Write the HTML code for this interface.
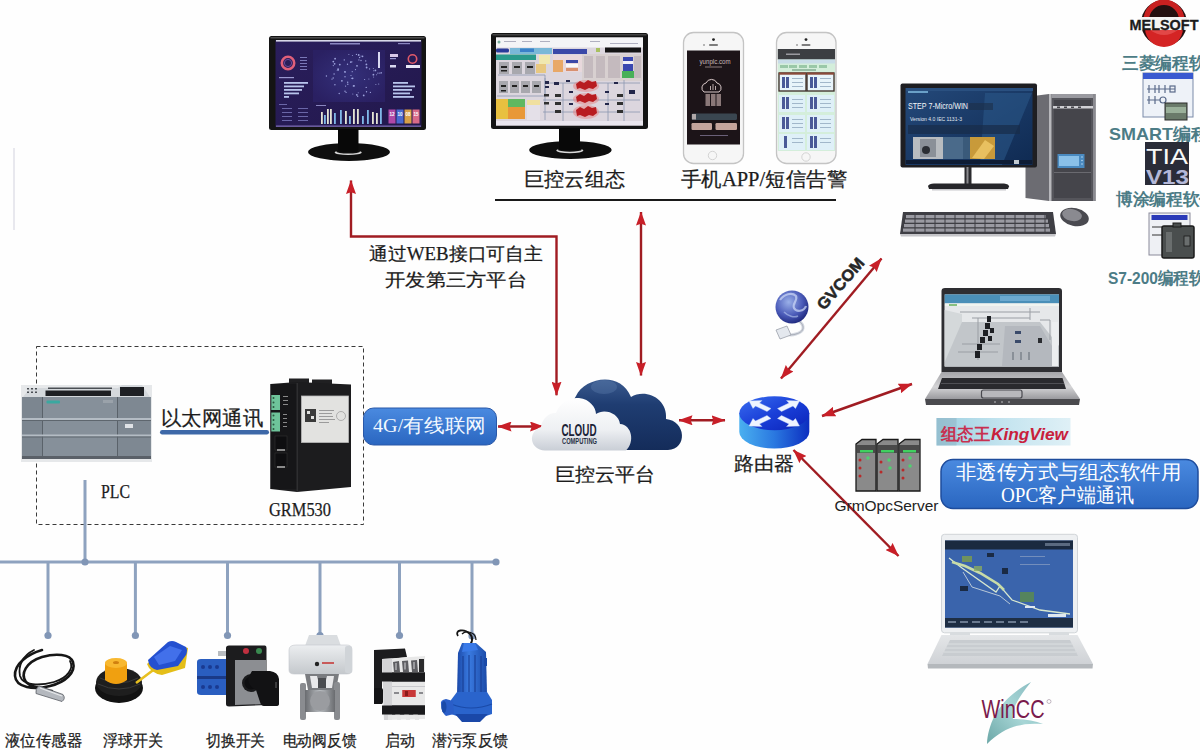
<!DOCTYPE html>
<html><head><meta charset="utf-8">
<style>
html,body{margin:0;padding:0;background:#fff;width:1200px;height:750px;overflow:hidden}
svg{display:block}
.t{font-family:"Liberation Serif",serif;fill:#1c1c1c;stroke:#1c1c1c;stroke-width:0.25}
.s{font-family:"Liberation Sans",sans-serif}
</style></head><body>
<svg width="1200" height="750" viewBox="0 0 1200 750">
<defs>
<marker id="ah" viewBox="0 0 14 10" refX="13.5" refY="5" markerWidth="14" markerHeight="10" markerUnits="userSpaceOnUse" orient="auto-start-reverse">
<path d="M0,0 L14,5 L0,10 L1.8,5 z" fill="#c81f28"/>
</marker>
<linearGradient id="dashbg" x1="0" y1="0" x2="1" y2="1"><stop offset="0" stop-color="#2a1e5c"/><stop offset="1" stop-color="#22184c"/></linearGradient>
<radialGradient id="mapg" cx="0.5" cy="0.5" r="0.6"><stop offset="0" stop-color="#34307a"/><stop offset="1" stop-color="#2a2062"/></radialGradient>
<linearGradient id="baseg" x1="0" y1="0" x2="0" y2="1"><stop offset="0" stop-color="#2a2a2a"/><stop offset="1" stop-color="#0c0c0c"/></linearGradient>
<linearGradient id="cloudD" x1="0" y1="0" x2="0" y2="1"><stop offset="0" stop-color="#3a5a8e"/><stop offset="0.35" stop-color="#1f3d72"/><stop offset="1" stop-color="#142c5a"/></linearGradient>
<linearGradient id="cloudW" x1="0" y1="0" x2="0" y2="1"><stop offset="0" stop-color="#ffffff"/><stop offset="0.6" stop-color="#eef0f3"/><stop offset="1" stop-color="#c9ced6"/></linearGradient>
<linearGradient id="rtop" x1="0" y1="0" x2="1" y2="1"><stop offset="0" stop-color="#3a6ef0"/><stop offset="0.5" stop-color="#1a3fd8"/><stop offset="1" stop-color="#0a22b8"/></linearGradient>
<linearGradient id="rside" x1="0" y1="0" x2="1" y2="0"><stop offset="0" stop-color="#4ab0f0"/><stop offset="0.5" stop-color="#2a78e0"/><stop offset="1" stop-color="#0c2ec0"/></linearGradient>
<linearGradient id="bluebox" x1="0" y1="0" x2="0" y2="1"><stop offset="0" stop-color="#4a8ae0"/><stop offset="1" stop-color="#2a66c0"/></linearGradient>
<linearGradient id="kv" x1="0" y1="0" x2="1" y2="0"><stop offset="0" stop-color="#9ccfe0"/><stop offset="0.5" stop-color="#c4e4ef"/><stop offset="1" stop-color="#dff0f6"/></linearGradient>
<linearGradient id="step7" x1="0" y1="0" x2="1" y2="1"><stop offset="0" stop-color="#24497a"/><stop offset="1" stop-color="#0f2a52"/></linearGradient>
<linearGradient id="tower" x1="0" y1="0" x2="1" y2="0"><stop offset="0" stop-color="#3a3a3e"/><stop offset="0.3" stop-color="#55555a"/><stop offset="1" stop-color="#3e3e44"/></linearGradient>
<linearGradient id="lapbase" x1="0" y1="0" x2="0" y2="1"><stop offset="0" stop-color="#a4a4a8"/><stop offset="0.55" stop-color="#d4d4d6"/><stop offset="1" stop-color="#9a9a9e"/></linearGradient>
<linearGradient id="lap2base" x1="0" y1="0" x2="0" y2="1"><stop offset="0" stop-color="#e4e6e8"/><stop offset="1" stop-color="#cfd2d6"/></linearGradient>
<linearGradient id="pumpg" x1="0" y1="0" x2="1" y2="0"><stop offset="0" stop-color="#1a48a8"/><stop offset="0.4" stop-color="#3a7ae0"/><stop offset="1" stop-color="#1a4aa8"/></linearGradient>
<linearGradient id="valveg" x1="0" y1="0" x2="0" y2="1"><stop offset="0" stop-color="#eceef0"/><stop offset="1" stop-color="#c4c8cc"/></linearGradient>
<linearGradient id="metal" x1="0" y1="0" x2="1" y2="0"><stop offset="0" stop-color="#6a6c70"/><stop offset="0.5" stop-color="#b8bcc0"/><stop offset="1" stop-color="#6a6c70"/></linearGradient>
<radialGradient id="globe" cx="0.4" cy="0.35" r="0.7"><stop offset="0" stop-color="#9ab0e8"/><stop offset="0.6" stop-color="#4a5ab8"/><stop offset="1" stop-color="#1a2478"/></radialGradient>
<linearGradient id="wincc" x1="0" y1="1" x2="1" y2="0"><stop offset="0" stop-color="#3a8a8a"/><stop offset="0.5" stop-color="#8ac8c8"/><stop offset="1" stop-color="#5aa0a8"/></linearGradient>
</defs>
<rect width="1200" height="750" fill="#fefefe"/>
<rect x="13" y="148" width="2" height="82" fill="#e8e8ee"/>
<!--MON1-->
<g id="mon1">
<rect x="269" y="36" width="157" height="94" rx="2.5" fill="#141414"/>
<rect x="270.5" y="37.2" width="154" height="1.2" fill="#5a5a5a"/>
<rect x="275.5" y="40" width="146" height="87" fill="url(#dashbg)"/>
<rect x="276" y="40" width="145" height="1.6" fill="#d8d8e8"/>
<rect x="276" y="125.5" width="145" height="1.3" fill="#7a6ab0"/>
<rect x="330" y="43" width="30" height="1.5" fill="#8a86c0"/>
<rect x="398" y="43" width="12" height="1.2" fill="#8a86c0"/>
<!-- left panel -->
<circle cx="288" cy="63" r="6.2" fill="none" stroke="#e0607a" stroke-width="2.6"/>
<circle cx="288" cy="63" r="3.6" fill="none" stroke="#6a4a9a" stroke-width="1"/>
<g fill="#7a78b8"><rect x="300" y="57" width="7" height="1"/><rect x="300" y="60" width="7" height="1"/><rect x="300" y="63" width="7" height="1"/><rect x="300" y="66" width="7" height="1"/><rect x="300" y="69" width="7" height="1"/></g>
<rect x="279" y="77" width="15" height="1.2" fill="#9a98d0"/>
<g fill="#b8c4ec"><rect x="284" y="82" width="24" height="1.8"/><rect x="284" y="85.5" width="20" height="1.8"/><rect x="284" y="89" width="18" height="1.8"/><rect x="284" y="92.5" width="15" height="1.8"/><rect x="284" y="96" width="5" height="1.8"/></g>
<g fill="#6a66a8"><rect x="279" y="104" width="8" height="1"/><rect x="282" y="108" width="10" height="1"/><rect x="298" y="108" width="10" height="1"/><rect x="282" y="112" width="10" height="1"/><rect x="298" y="112" width="10" height="1"/><rect x="282" y="116" width="10" height="1"/><rect x="298" y="116" width="10" height="1"/><rect x="282" y="120" width="10" height="1"/><rect x="298" y="120" width="10" height="1"/></g>
<!-- map -->
<rect x="313" y="50" width="72" height="52" fill="url(#mapg)"/>
<g fill="#b8c0f8" opacity="0.8">
<circle cx="333.2" cy="78.0" r="0.7"/><circle cx="376.6" cy="74.8" r="0.5"/><circle cx="356.8" cy="94.8" r="0.9"/><circle cx="334.6" cy="63.8" r="0.9"/><circle cx="352.6" cy="78.3" r="0.9"/><circle cx="358.9" cy="59.9" r="0.6"/><circle cx="373.6" cy="77.1" r="0.5"/><circle cx="361.0" cy="55.9" r="0.5"/><circle cx="373.4" cy="74.7" r="0.9"/><circle cx="363.7" cy="95.4" r="0.9"/><circle cx="364.6" cy="79.5" r="0.6"/><circle cx="379.8" cy="73.1" r="0.7"/><circle cx="345.0" cy="91.3" r="0.7"/><circle cx="352.2" cy="71.7" r="0.6"/><circle cx="375.9" cy="84.4" r="0.5"/><circle cx="361.0" cy="60.5" r="0.7"/><circle cx="354.4" cy="85.8" r="0.6"/><circle cx="335.1" cy="58.7" r="0.9"/><circle cx="344.3" cy="59.9" r="0.7"/><circle cx="345.3" cy="72.1" r="0.5"/><circle cx="339.2" cy="93.5" r="0.7"/><circle cx="356.4" cy="54.4" r="0.6"/><circle cx="334.9" cy="84.7" r="0.7"/><circle cx="375.4" cy="70.4" r="0.9"/><circle cx="373.7" cy="70.8" r="0.5"/><circle cx="357.7" cy="96.3" r="0.7"/><circle cx="345.6" cy="86.1" r="0.6"/><circle cx="377.9" cy="73.1" r="0.7"/><circle cx="351.4" cy="78.2" r="0.5"/><circle cx="338.2" cy="70.3" r="0.6"/><circle cx="347.8" cy="84.2" r="0.7"/><circle cx="357.0" cy="65.8" r="0.9"/><circle cx="334.1" cy="74.0" r="0.7"/><circle cx="366.5" cy="91.8" r="0.7"/><circle cx="337.2" cy="70.3" r="0.5"/><circle cx="326.4" cy="76.0" r="0.7"/><circle cx="333.3" cy="61.6" r="0.9"/><circle cx="359.6" cy="57.5" r="0.7"/><circle cx="378.7" cy="84.0" r="0.6"/><circle cx="346.1" cy="92.4" r="0.6"/><circle cx="332.0" cy="79.1" r="0.7"/><circle cx="351.9" cy="61.8" r="0.6"/><circle cx="373.3" cy="68.6" r="0.5"/><circle cx="369.6" cy="68.9" r="0.6"/><circle cx="345.0" cy="76.8" r="0.7"/><circle cx="347.7" cy="82.2" r="0.7"/><circle cx="344.9" cy="71.8" r="0.9"/><circle cx="381.2" cy="73.0" r="0.6"/><circle cx="366.2" cy="87.4" r="0.7"/><circle cx="352.8" cy="93.9" r="0.5"/><circle cx="350.8" cy="62.1" r="0.9"/><circle cx="365.7" cy="60.9" r="0.7"/><circle cx="352.4" cy="55.4" r="0.5"/><circle cx="339.8" cy="64.6" r="0.9"/><circle cx="333.3" cy="65.6" r="0.6"/><circle cx="358.2" cy="92.7" r="0.5"/><circle cx="366.4" cy="64.4" r="0.9"/><circle cx="370.4" cy="92.4" r="0.6"/><circle cx="348.9" cy="54.5" r="0.5"/><circle cx="351.0" cy="75.5" r="0.6"/><circle cx="338.1" cy="69.2" r="0.9"/><circle cx="355.5" cy="69.6" r="0.6"/><circle cx="381.2" cy="72.7" r="0.6"/><circle cx="353.6" cy="85.9" r="0.9"/><circle cx="368.9" cy="79.1" r="0.5"/><circle cx="341.9" cy="80.8" r="0.9"/><circle cx="358.7" cy="55.0" r="0.9"/><circle cx="366.6" cy="67.5" r="0.9"/><circle cx="347.5" cy="64.3" r="0.7"/><circle cx="362.5" cy="56.3" r="0.9"/>
</g>
<rect x="378" y="52" width="2" height="16" fill="#d8d8f0"/>
<!-- bar chart -->
<rect x="316" y="105" width="10" height="1" fill="#8a86c0"/>
<g fill="#e4e4d4"><rect x="321" y="112" width="1.8" height="12"/><rect x="327" y="109" width="1.8" height="15"/><rect x="330" y="109" width="1.8" height="15"/><rect x="345" y="111" width="1.8" height="13"/><rect x="353" y="109" width="1.8" height="15"/><rect x="357" y="109" width="1.8" height="15"/><rect x="372" y="112" width="1.8" height="12"/><rect x="376" y="113" width="1.8" height="11"/></g>
<g fill="#80b8e8"><rect x="324" y="115" width="1.8" height="9"/><rect x="334" y="113" width="1.8" height="11"/><rect x="340" y="110" width="1.8" height="14"/><rect x="349" y="116" width="1.8" height="8"/><rect x="362" y="116" width="1.8" height="8"/><rect x="367" y="110" width="1.8" height="14"/><rect x="380" y="108" width="1.8" height="16"/></g>
<!-- right panel -->
<circle cx="412.5" cy="59" r="4.2" fill="none" stroke="#e05a6a" stroke-width="1.6"/>
<rect x="390" y="54" width="8" height="3" fill="#d8c8e8"/><rect x="390" y="58" width="6" height="1.2" fill="#9a98d0"/>
<rect x="390" y="65" width="6" height="2.5" fill="#d8d8f0"/>
<rect x="406" y="65" width="14" height="3" fill="#e8e8f8"/>
<g fill="#b8c4ec"><rect x="393" y="82" width="15" height="1.8"/><rect x="393" y="85.5" width="22" height="1.8"/><rect x="393" y="89" width="19" height="1.8"/><rect x="393" y="92.5" width="17" height="1.8"/><rect x="393" y="96" width="21" height="1.8"/></g>
<rect x="388.5" y="109.5" width="7" height="14" fill="#b048a8"/>
<rect x="396.5" y="109.5" width="7" height="14" fill="#4a68d0"/>
<rect x="404.5" y="109.5" width="7" height="14" fill="#d8a048"/>
<rect x="412.5" y="109.5" width="7" height="14" fill="#d86a88"/>
<g fill="#fff" font-family="Liberation Sans" font-size="4.5" font-weight="bold"><text x="389.5" y="116">12</text><text x="397.5" y="116">10</text><text x="405.5" y="116">08</text><text x="413.5" y="116">15</text></g>
<!-- stand -->
<ellipse cx="349" cy="152" rx="41" ry="9" fill="#0e0e0e"/>
<ellipse cx="348.2" cy="152.5" rx="13.5" ry="2.6" fill="#d8d8d8"/>
<ellipse cx="348.2" cy="151.6" rx="12" ry="2" fill="#0e0e0e"/>
<rect x="338" y="129" width="20.5" height="23" fill="#080808"/>
</g>

<!--/MON1-->
<!--MON2-->
<g id="mon2">
<rect x="491" y="33" width="157" height="96" rx="2.5" fill="#141414"/>
<rect x="492.5" y="34.2" width="154" height="1.2" fill="#505050"/>
<rect x="496" y="37.5" width="147" height="88" fill="#dcd6de"/>
<rect x="496" y="37.5" width="147" height="10" fill="#f4f4f6"/>
<circle cx="499" cy="42" r="1.5" fill="#7ab0a0"/>
<g fill="#b0b0c0"><rect x="504" y="41" width="12" height="1"/><rect x="522" y="41" width="10" height="1"/><rect x="540" y="41" width="10" height="1"/><rect x="590" y="41" width="10" height="1"/><rect x="610" y="43" width="28" height="1"/></g>
<rect x="496" y="48.5" width="13" height="4" rx="1.5" fill="#2a3a9a"/>
<rect x="510" y="48" width="42" height="6" fill="#7ab8d8"/>
<rect x="520" y="48.5" width="14" height="3.5" fill="#3a80c8"/>
<rect x="496" y="54.5" width="40" height="5.5" fill="#2a9a8c"/>
<rect x="553" y="49" width="34" height="5" fill="#3a48a8"/>
<rect x="605" y="47.5" width="36" height="5" fill="#141414"/>
<rect x="596" y="48" width="4" height="4" fill="#a8c060"/>
<rect x="539" y="55" width="11" height="9" fill="#f0e8b0"/>
<rect x="553" y="55" width="38" height="17" fill="#e8d8dc"/>
<rect x="553" y="60" width="10" height="12" fill="#e8a868"/>
<rect x="566" y="60" width="12" height="3" fill="#3a48a8"/><rect x="566" y="64" width="12" height="3" fill="#f8f8fa"/><rect x="566" y="68" width="12" height="3" fill="#d89070"/>
<rect x="582" y="54" width="60" height="27" fill="#d8d0d0"/>
<g fill="#c4babe"><rect x="584" y="56" width="9" height="22"/><rect x="596" y="56" width="9" height="22"/><rect x="608" y="56" width="12" height="22"/><rect x="634" y="56" width="7" height="22"/></g>
<rect x="623" y="57" width="10" height="14" fill="#3a48b0"/>
<rect x="623" y="61" width="10" height="3" fill="#f0f0f8"/>
<rect x="622" y="71" width="12" height="7" fill="#48b058"/>
<!-- machine icons -->
<g fill="#a8a8ae"><rect x="499" y="62" width="10" height="12"/><rect x="512" y="62" width="10" height="12"/><rect x="525" y="62" width="10" height="12"/>
<rect x="499" y="81" width="9" height="12"/><rect x="510" y="81" width="9" height="12"/><rect x="521" y="81" width="9" height="12"/><rect x="532" y="81" width="9" height="12"/></g>
<g fill="#222"><rect x="501" y="66" width="6" height="2"/><rect x="514" y="66" width="6" height="2"/><rect x="527" y="66" width="6" height="2"/><rect x="501" y="70" width="6" height="1.5"/>
<rect x="501" y="85" width="5" height="2"/><rect x="512" y="85" width="5" height="2"/><rect x="523" y="85" width="5" height="2"/><rect x="534" y="85" width="5" height="2"/><rect x="501" y="90" width="5" height="1.5"/></g>
<rect x="536" y="64" width="10" height="9" fill="#e8c880"/>
<g fill="none" stroke="#8a98b0" stroke-width="0.8"><path d="M498,75 H545 V96 H497"/><path d="M545,78 V120"/><path d="M548,83 H640"/><path d="M563,83 V124"/><path d="M608,83 V124"/><path d="M543,100 H640"/><path d="M543,112 H640"/><path d="M624,80 V124"/></g>
<!-- bottom left table -->
<rect x="496" y="99" width="12" height="20" fill="#e8c040"/>
<rect x="508" y="99" width="17" height="8" fill="#60b860"/>
<rect x="508" y="107" width="17" height="12" fill="#e89838"/>
<rect x="527" y="100" width="13" height="5" fill="#f0e0a0"/>
<rect x="527" y="105" width="13" height="15" fill="#e4e0e8"/>
<!-- small dark boxes -->
<g fill="#23264a"><rect x="545" y="81" width="4" height="3"/><rect x="554" y="82" width="5" height="3"/><rect x="545" y="86" width="4" height="2"/><rect x="566" y="80" width="4" height="2"/><rect x="569" y="91" width="4" height="2"/><rect x="569" y="103" width="4" height="2"/><rect x="605" y="91" width="4" height="2"/><rect x="605" y="103" width="4" height="2"/><rect x="614" y="82" width="4" height="2"/><rect x="629" y="90" width="6" height="4"/></g>
<g fill="#303030"><rect x="544" y="94" width="5" height="2.5"/><rect x="544" y="102" width="5" height="2.5"/><rect x="555" y="94" width="6" height="3"/><rect x="555" y="102" width="6" height="3"/><rect x="555" y="110" width="6" height="3"/><rect x="617" y="94" width="6" height="3"/><rect x="617" y="102" width="6" height="3"/><rect x="617" y="110" width="6" height="3"/></g>
<!-- red splotches -->
<g fill="#e87a7a" opacity="0.45"><ellipse cx="586" cy="86" rx="13" ry="6"/><ellipse cx="586" cy="99" rx="13" ry="6"/><ellipse cx="586" cy="112" rx="13" ry="7"/></g>
<g fill="#b81c20">
<path d="M576,84 L580,81 L584,83 L588,80 L592,82 L596,81 L597,86 L593,89 L589,88 L585,90 L580,88 L577,89 Z"/>
<path d="M576,97 L580,94 L584,96 L588,93 L592,95 L596,94 L597,99 L593,102 L589,101 L585,103 L580,101 L577,102 Z"/>
<path d="M576,110 L580,107 L584,109 L588,106 L592,108 L596,107 L597,113 L593,116 L589,115 L585,117 L580,115 L577,116 Z"/>
</g>
<rect x="496" y="121" width="147" height="4.5" fill="#eae6ee"/>
<ellipse cx="570.4" cy="150" rx="41.3" ry="9" fill="#0e0e0e"/>
<ellipse cx="569.8" cy="150.6" rx="13.5" ry="2.6" fill="#d8d8d8"/>
<ellipse cx="569.8" cy="149.7" rx="12" ry="2" fill="#0e0e0e"/>
<rect x="559" y="128" width="21" height="22" fill="#080808"/>
</g>

<!--/MON2-->
<!--PHONES-->
<g id="ph1">
<rect x="683.5" y="32.5" width="60" height="131" rx="10" fill="#f6f6f6" stroke="#c4c4c4" stroke-width="1.3"/>
<circle cx="713.5" cy="39.6" r="1.4" fill="#222"/>
<rect x="709" y="44.2" width="9" height="1.6" rx="0.8" fill="#555"/>
<circle cx="704" cy="45" r="0.7" fill="#444"/>
<rect x="687" y="50.5" width="53" height="94" fill="#1c1418"/>
<text x="699.5" y="64" font-family="Liberation Sans" font-size="7.5" fill="#c8b8b8" textLength="31" lengthAdjust="spacingAndGlyphs">yunplc.com</text>
<rect x="705" y="66.5" width="17" height="1" fill="#8a7a7a"/>
<path d="M704,92 a5,5 0 0 1 2,-9 a6,6 0 0 1 11,0 a5,5 0 0 1 2,9 z" fill="none" stroke="#d8c8c8" stroke-width="1"/>
<g fill="#b8a8a8"><rect x="710" y="86" width="1" height="4"/><rect x="712.5" y="84" width="1" height="6"/><rect x="715" y="86" width="1" height="4"/></g>
<g fill="#8a7878"><rect x="705.5" y="94" width="4.5" height="12"/><rect x="711" y="94" width="4.5" height="12"/><rect x="716.5" y="94" width="4.5" height="12"/></g>
<rect x="691.5" y="113.5" width="45.5" height="6.5" rx="1.5" fill="#3a4650"/>
<rect x="692" y="114" width="4" height="5.5" fill="#b0a8a8"/>
<rect x="691.5" y="123" width="20.5" height="7" rx="1.2" fill="#c4a49c"/>
<rect x="715.5" y="123" width="21.5" height="7" rx="1.2" fill="#c4a49c"/>
<rect x="700" y="135" width="28" height="1" fill="#6a6078"/>
<circle cx="712.5" cy="155.5" r="4.2" fill="none" stroke="#cfcfcf" stroke-width="0.9"/>
</g>
<g id="ph2">
<rect x="776.5" y="32.5" width="59.5" height="131" rx="10" fill="#f6f6f6" stroke="#c4c4c4" stroke-width="1.3"/>
<circle cx="806" cy="39.6" r="1.4" fill="#222"/>
<rect x="801.5" y="44.2" width="9" height="1.6" rx="0.8" fill="#555"/>
<circle cx="797" cy="45" r="0.7" fill="#444"/>
<rect x="777.8" y="49" width="57.2" height="102" fill="#d4eedb"/>
<rect x="777.8" y="49" width="57.2" height="10.5" fill="#3c3e42"/>
<rect x="786" y="53.5" width="14" height="1.5" fill="#9a9aa0"/>
<rect x="778" y="59.5" width="57" height="4" fill="#c8dce8"/>
<g fill="#9ac8a8"><rect x="780" y="65" width="8" height="3"/><rect x="789" y="65" width="8" height="3"/><rect x="799" y="65" width="8" height="3"/><rect x="809" y="65" width="8" height="3"/><rect x="819" y="65" width="8" height="3"/></g>
<rect x="792" y="69.5" width="24" height="1" fill="#5a8a70"/>
<g>
<rect x="779" y="73" width="27" height="18" fill="#e8f4fa" stroke="#3a2a24" stroke-width="1.3"/>
<rect x="807" y="73" width="27" height="18" fill="#e8f4fa" stroke="#3a2a24" stroke-width="1.3"/>
<rect x="779" y="72.5" width="27" height="2.2" fill="#8a4a3a"/><rect x="807" y="72.5" width="27" height="2.2" fill="#8a4a3a"/>
<rect x="779" y="95" width="26" height="17" fill="#dff0f8"/><rect x="807" y="95" width="27" height="17" fill="#dff0f8"/>
<rect x="779" y="115" width="26" height="17" fill="#dff0f8"/><rect x="807" y="115" width="27" height="17" fill="#dff0f8"/>
<rect x="779" y="134" width="26" height="16" fill="#dff0f8"/><rect x="807" y="134" width="27" height="16" fill="#dff0f8"/>
</g>
<g fill="#4a5a98">
<rect x="782" y="77" width="3" height="11"/><rect x="786" y="77" width="3" height="11"/><rect x="810" y="77" width="3" height="11"/><rect x="814" y="77" width="3" height="11"/>
<rect x="782" y="97" width="3" height="12"/><rect x="786" y="97" width="3" height="12"/><rect x="810" y="97" width="3" height="12"/><rect x="814" y="97" width="3" height="12"/>
<rect x="782" y="117" width="3" height="12"/><rect x="786" y="117" width="3" height="12"/><rect x="810" y="117" width="3" height="12"/><rect x="814" y="117" width="3" height="12"/>
<rect x="784" y="136" width="3" height="12"/><rect x="810" y="136" width="3" height="12"/><rect x="814" y="136" width="3" height="12"/>
</g>
<g fill="#9ab0c4"><rect x="792" y="78" width="11" height="0.9"/><rect x="792" y="82" width="11" height="0.9"/><rect x="792" y="86" width="11" height="0.9"/><rect x="820" y="78" width="11" height="0.9"/><rect x="820" y="82" width="11" height="0.9"/><rect x="820" y="86" width="11" height="0.9"/>
<rect x="792" y="99" width="11" height="0.9"/><rect x="792" y="103" width="11" height="0.9"/><rect x="792" y="107" width="11" height="0.9"/><rect x="820" y="99" width="11" height="0.9"/><rect x="820" y="103" width="11" height="0.9"/><rect x="820" y="107" width="11" height="0.9"/>
<rect x="792" y="119" width="11" height="0.9"/><rect x="792" y="123" width="11" height="0.9"/><rect x="792" y="127" width="11" height="0.9"/><rect x="820" y="119" width="11" height="0.9"/><rect x="820" y="123" width="11" height="0.9"/><rect x="820" y="127" width="11" height="0.9"/>
<rect x="792" y="138" width="11" height="0.9"/><rect x="792" y="142" width="11" height="0.9"/><rect x="820" y="138" width="11" height="0.9"/><rect x="820" y="142" width="11" height="0.9"/></g>
<circle cx="806" cy="157" r="4.2" fill="none" stroke="#cfcfcf" stroke-width="0.9"/>
</g>

<!--/PHONES-->
<!--TOPTEXT-->
<text class="t" x="524" y="186" font-size="20" textLength="101" lengthAdjust="spacingAndGlyphs">巨控云组态</text>
<text class="t" x="681" y="186" font-size="20" textLength="166" lengthAdjust="spacingAndGlyphs">手机APP/短信告警</text>
<rect x="495" y="199" width="341" height="2" fill="#1a1a1a"/>
<text class="t" x="369" y="260" font-size="18" textLength="174" lengthAdjust="spacingAndGlyphs">通过WEB接口可自主</text>
<text class="t" x="385" y="286" font-size="18" textLength="142" lengthAdjust="spacingAndGlyphs">开发第三方平台</text>

<!--/TOPTEXT-->
<!--ARROWS-->
<g stroke="#a01c22" stroke-width="2.4" fill="none">
<polyline points="351,180.5 351,236.5 556.5,236.5 556.5,395.2" marker-start="url(#ah)" marker-end="url(#ah)"/>
<line x1="641" y1="212" x2="641" y2="375.5" marker-start="url(#ah)" marker-end="url(#ah)"/>
<line x1="498" y1="426.5" x2="543.5" y2="426.5" marker-start="url(#ah)" marker-end="url(#ah)"/>
<line x1="679" y1="420.3" x2="725" y2="420.3" marker-start="url(#ah)" marker-end="url(#ah)"/>
<line x1="781" y1="378.5" x2="881.5" y2="258.5" marker-start="url(#ah)" marker-end="url(#ah)"/>
<line x1="822" y1="416" x2="912" y2="384" marker-start="url(#ah)" marker-end="url(#ah)"/>
<line x1="793.5" y1="450" x2="898.5" y2="556" marker-start="url(#ah)" marker-end="url(#ah)"/>
</g>

<!--/ARROWS-->
<!--CLOUD-->
<g id="cloud">
<path d="M585,450 C572,430 568,408 576,396 C584,378 620,370 631,397 C645,388 668,398 666,419 C686,421 688,449 668,450 Z" fill="url(#cloudD)"/>
<ellipse cx="604" cy="387" rx="13" ry="7" fill="#6a8ab8" opacity="0.3"/>
<path d="M545,450.5 C530,450 527,432 541,427 C542,418 550,412 556,413 C560,402 570,397 579,398 C590,399 596,408 596,414 C604,408 619,413 620,424 C632,425 635,442 626,450.5 Z" fill="url(#cloudW)"/>
<text x="561.5" y="435.5" font-family="Liberation Sans" font-weight="bold" font-size="16.5" fill="#1a2236" textLength="35" lengthAdjust="spacingAndGlyphs">CLOUD</text>
<text x="562" y="444" font-family="Liberation Sans" font-weight="bold" font-size="8.5" fill="#2a3246" textLength="35" lengthAdjust="spacingAndGlyphs">COMPUTING</text>
</g>
<text class="t" x="555" y="481" font-size="19" textLength="100" lengthAdjust="spacingAndGlyphs">巨控云平台</text>

<!--/CLOUD-->
<!--LEFT-->
<rect x="36.5" y="346.5" width="327" height="178" fill="none" stroke="#3a3a3a" stroke-width="1" stroke-dasharray="4,3"/>
<!-- 4G box -->
<rect x="363.5" y="408" width="133" height="37" rx="10" fill="url(#bluebox)" stroke="#2a58a8" stroke-width="1"/>
<text x="373" y="432" font-family="Liberation Serif" font-size="18.5" fill="#f2f8ff" textLength="113" lengthAdjust="spacingAndGlyphs">4G/有线联网</text>
<!-- PLC -->
<g id="plc">
<rect x="21" y="385" width="131" height="77" fill="#e6e8ea"/>
<path d="M23,397 L30,388 L118,388 L122,385 L142,385 L150,397 Z" fill="#d4d8dc"/>
<g fill="#4a4e54"><rect x="27" y="388" width="2" height="1.5"/><rect x="31" y="388" width="2" height="1.5"/><rect x="35" y="388" width="2" height="1.5"/><rect x="27" y="391.5" width="2" height="1.5"/><rect x="31" y="391.5" width="2" height="1.5"/><rect x="35" y="391.5" width="2" height="1.5"/>
<rect x="48" y="387.5" width="64" height="1.5"/></g>
<rect x="45.5" y="390.5" width="65.5" height="5.5" fill="#1e2024"/>
<rect x="120" y="387" width="24" height="9" fill="#1e2024"/>
<rect x="22" y="397" width="129" height="62" fill="#86909a"/>
<rect x="22" y="397" width="20" height="62" fill="#7c8690"/>
<rect x="117.5" y="397" width="33" height="62" fill="#7e8892"/>
<rect x="42" y="397" width="1" height="62" fill="#5a626a"/>
<rect x="117" y="397" width="1" height="62" fill="#5a626a"/>
<rect x="22" y="418" width="129" height="2" fill="#b4bcc4"/>
<rect x="22" y="434.5" width="129" height="2" fill="#b4bcc4"/>
<rect x="22" y="420" width="129" height="1" fill="#5e666e"/>
<rect x="22" y="436.5" width="129" height="1" fill="#5e666e"/>
<rect x="22" y="456" width="129" height="3" fill="#5a6068"/>
<rect x="46.5" y="400.5" width="13.5" height="3" rx="1" fill="#3aa8a0"/>
<rect x="125" y="424" width="8" height="4" fill="#dfe2e6"/>
<rect x="103" y="400" width="10" height="3" fill="#9aa2aa"/>
</g>
<text class="t" x="161" y="425" font-size="20" textLength="102" lengthAdjust="spacingAndGlyphs">以太网通讯</text>
<rect x="160" y="430" width="109" height="4.5" rx="2.2" fill="#3d68a8"/>
<!-- GRM530 -->
<g id="grm">
<rect x="289" y="378.5" width="20" height="6" fill="#202022"/>
<rect x="312" y="379.5" width="20" height="5" fill="#202022"/>
<path d="M270.5,384 L297,382 L351,384.5 L351,487 L297,492 L270.5,489 Z" fill="#1c1c1e"/>
<rect x="270.5" y="384" width="27" height="105" fill="#161618"/>
<rect x="296.5" y="383" width="1.5" height="109" fill="#2e2e30"/>
<rect x="271.3" y="395" width="8.7" height="15" fill="#6ec49a"/>
<rect x="271.3" y="412.5" width="8.7" height="19" fill="#6ec49a"/>
<g fill="#2a5a40"><circle cx="273.5" cy="398" r="1"/><circle cx="273.5" cy="402.5" r="1"/><circle cx="273.5" cy="407" r="1"/><circle cx="273.5" cy="415.5" r="1"/><circle cx="273.5" cy="420" r="1"/><circle cx="273.5" cy="424.5" r="1"/><circle cx="273.5" cy="429" r="1"/></g>
<g fill="#8a8a8a"><rect x="283" y="396" width="5" height="1"/><rect x="283" y="400" width="5" height="1"/><rect x="283" y="404" width="5" height="1"/><rect x="283" y="414" width="4" height="1"/><rect x="283" y="418" width="4" height="1"/><rect x="283" y="422" width="4" height="1"/><rect x="283" y="426" width="4" height="1"/></g>
<rect x="275" y="436" width="12" height="14" fill="#0e0e10" stroke="#333" stroke-width="0.6"/>
<rect x="275" y="453" width="12" height="14" fill="#0e0e10" stroke="#333" stroke-width="0.6"/>
<rect x="277" y="449" width="8" height="2" fill="#8a8a8a"/>
<rect x="277" y="466" width="8" height="2" fill="#8a8a8a"/>
<rect x="301.5" y="396" width="47" height="46.5" fill="#e2e2e0" stroke="#b8b8b8" stroke-width="0.8"/>
<rect x="305" y="409" width="11" height="13" fill="#3a3a3a"/>
<rect x="307" y="411" width="3" height="3" fill="#e2e2e0"/><rect x="311" y="416" width="3" height="3" fill="#e2e2e0"/>
<g fill="#8a8a8a"><rect x="319" y="410" width="15" height="0.8"/><rect x="319" y="413" width="13" height="0.8"/><rect x="319" y="416" width="14" height="0.8"/><rect x="319" y="419" width="16" height="0.8"/><rect x="319" y="422" width="10" height="0.8"/></g>
<circle cx="341" cy="416" r="4.5" fill="none" stroke="#a0a0a0" stroke-width="0.8"/>
</g>
<text class="t" x="101" y="497.5" font-size="18.5" textLength="29" lengthAdjust="spacingAndGlyphs">PLC</text>
<text class="t" x="269" y="515.5" font-size="19" textLength="62" lengthAdjust="spacingAndGlyphs">GRM530</text>

<!--/LEFT-->
<!--BOTTOM-->
<g stroke="#8ea2bf" stroke-width="3" fill="none">
<line x1="85" y1="480" x2="85" y2="562"/>
<line x1="0" y1="562" x2="496" y2="562"/>
<line x1="48" y1="562" x2="48" y2="635"/>
<line x1="135.4" y1="562" x2="135.4" y2="635"/>
<line x1="227.5" y1="562" x2="227.5" y2="635"/>
<line x1="320" y1="562" x2="320" y2="635"/>
<line x1="399.5" y1="562" x2="399.5" y2="635"/>
<line x1="472" y1="562" x2="472" y2="635"/>
</g>
<g fill="#8196b6">
<circle cx="85" cy="562" r="3.6"/><circle cx="496" cy="562" r="3.6"/>
<circle cx="48" cy="635.5" r="3.6"/><circle cx="135.4" cy="635.5" r="3.6"/><circle cx="227.5" cy="635.5" r="3.6"/>
<circle cx="320" cy="635.5" r="3.6"/><circle cx="399.5" cy="635.5" r="3.6"/><circle cx="472" cy="636" r="3.6"/>
</g>
<!-- level sensor -->
<g id="sensor" fill="none" stroke="#161616" stroke-linecap="round">
<path d="M42,650 C28,654 14,664 15,676 C16,688 34,690 50,686 C66,682 76,672 73,662 C70,654 56,653 42,657 C26,662 20,674 26,682 C32,688 42,689 48,690" stroke-width="2.6"/>
<path d="M34,650 C22,656 18,666 20,676 C23,686 40,686 54,682 C68,678 74,668 70,661" stroke-width="1.8"/>
<path d="M38,688 C44,690 48,690 52,691" stroke-width="2.4"/>
</g>
<path d="M39,686 L63,694.5 Q66,698.5 62,701.5 L36,693.5 Q35,689 39,686 Z" fill="#b4b8be" stroke="#5a5e64" stroke-width="0.8"/>
<path d="M40,688 L62,696" stroke="#e8eaec" stroke-width="1.2"/>
<!-- float switch -->
<g id="float">
<ellipse cx="119" cy="688" rx="24" ry="15" fill="#121212"/>
<ellipse cx="119" cy="682" rx="23" ry="14" fill="#1e1e1e"/>
<path d="M98,684 Q119,694 140,684" stroke="#3a3a3a" stroke-width="1" fill="none"/>
<path d="M100,678 Q119,688 138,678" stroke="#3a3a3a" stroke-width="1" fill="none"/>
<path d="M105,664 Q105,659 116,659 Q127,659 127,664 L127,680 Q116,688 105,680 Z" fill="#f0a010"/>
<ellipse cx="116" cy="663" rx="11" ry="5" fill="#f8b830"/>
<ellipse cx="116" cy="662.5" rx="3" ry="1.6" fill="#d08010"/>
<path d="M136,683 L148,674 L156,668" stroke="#e8c020" stroke-width="2.6" fill="none"/>
<path d="M147,664 L170,643 L188,648 L185,668 L162,675 Q150,673 147,664 Z" fill="#e4be18"/>
<path d="M148,660 L168,642 Q172,640 176,642 L186,647 Q188,650 186,655 L178,666 L157,670 Q149,668 148,660 Z" fill="#2450d0"/>
<path d="M154,657 L170,646 L182,650 L175,661 L159,665 Z" fill="#4a78f0" opacity="0.8"/>
</g>
<!-- rotary switch -->
<g id="rotary">
<rect x="218" y="651" width="9" height="5" fill="#b8bcc0"/>
<path d="M197,662 Q197,659 201,659 L226,659 L226,695 L201,695 Q197,695 197,692 Z" fill="#2a5ec0"/>
<rect x="197" y="676" width="29" height="3" fill="#1a3a88"/>
<g fill="#1a3a90"><circle cx="203" cy="667" r="2"/><circle cx="210" cy="667" r="2"/><circle cx="217" cy="667" r="2"/><circle cx="203" cy="687" r="2"/><circle cx="210" cy="687" r="2"/><circle cx="217" cy="687" r="2"/></g>
<path d="M226,648 Q226,645.5 229,645.5 L265,645.5 Q266.5,645.5 266.5,648 L266.5,705 L229,706.5 Q226,706.5 226,704 Z" fill="#1c1c1e"/>
<path d="M235,660 L266,660 L266,704 L235,705 Z" fill="#8c8e92"/>
<circle cx="246" cy="651" r="3" fill="#c03040"/><circle cx="259" cy="651" r="3" fill="#3a8a50"/>
<circle cx="251" cy="683" r="9" fill="#1a1a1c"/>
<circle cx="251" cy="683" r="6.5" fill="#0e0e10"/>
<path d="M252,671 L270,671 Q278,672 279,679 L279,704 Q279,706 276,706 L264,706 Q261,706 260,702 L256,690 Q248,686 248,678 Z" fill="#121214"/>
<rect x="275" y="682" width="2" height="6" fill="#3a3a3c"/>
</g>
<!-- electric valve -->
<g id="valve">
<path d="M309,635 L337,635 L341,646 L305,646 Z" fill="#dadde0"/>
<path d="M289,650 Q289,645 296,645 L347,645 Q352,645 352,650 L352,670 Q352,674 347,674 L294,674 Q289,674 289,670 Z" fill="url(#valveg)" stroke="#c4c8cc" stroke-width="0.6"/>
<rect x="345" y="646" width="7" height="27" rx="2" fill="#d0d4d8"/>
<circle cx="317" cy="664" r="2.2" fill="#222"/>
<rect x="322" y="662" width="12" height="2" fill="#c85a5a"/>
<path d="M305,674 L339,674 L336,690 L308,690 Z" fill="#7a7c80"/>
<path d="M310,676 L317,676 L320,688 L312,688 Z" fill="#e8e8ea"/>
<path d="M327,676 L334,676 L332,688 L324,688 Z" fill="#e8e8ea"/>
<rect x="318" y="678" width="8" height="10" fill="#4a4c50"/>
<rect x="300" y="683" width="6" height="37" rx="2" fill="#8a8c90"/>
<rect x="334" y="682" width="6" height="38" rx="2" fill="#8a8c90"/>
<path d="M305,690 L335,690 L335,712 L305,712 Z" fill="url(#metal)"/>
<ellipse cx="320" cy="701" rx="10" ry="10" fill="#9a9ca0"/>
</g>
<!-- contactor -->
<g id="contactor">
<path d="M374,650 L405,648.5 L407,657 L382,660 L382,704 L374,704 Z" fill="#1c1c1e"/>
<rect x="374" y="688" width="9" height="16" rx="2" fill="#141416"/>
<path d="M382,659 L425,656 L425,719 L384,720 Z" fill="#e8e8e8"/>
<path d="M382,659 L392,658.5 L392,720 L384,720 Z" fill="#d4d4d6"/>
<g fill="#5e5e62"><path d="M393,662 L399,661 L400,672 L394,672 Z"/><path d="M402,661 L408,660.5 L409,672 L403,672 Z"/><path d="M411,660.5 L417,660 L418,672 L412,672 Z"/></g>
<g fill="#9a9a9e"><rect x="395" y="663" width="2" height="7"/><rect x="404" y="662.5" width="2" height="7"/><rect x="413" y="662" width="2" height="7"/></g>
<rect x="419" y="659" width="5" height="13" fill="#2a2a2c"/>
<rect x="392" y="672.5" width="33" height="9" fill="#1a1a1c"/>
<g fill="#4a4a4e"><circle cx="397" cy="677" r="1.6"/><circle cx="405" cy="677" r="1.6"/><circle cx="413" cy="677" r="1.6"/><circle cx="421" cy="677" r="1.6"/></g>
<rect x="392" y="686" width="33" height="1" fill="#c8c8cc"/>
<rect x="402.5" y="690" width="13" height="7" fill="#c83a3a"/>
<rect x="406" y="691" width="4" height="5" fill="#8a1a1a"/>
<g fill="#8a8a8e"><rect x="394" y="692" width="5" height="2"/><rect x="419" y="692" width="4" height="2"/></g>
<rect x="392" y="705.5" width="33" height="9" fill="#1a1a1c"/>
<g fill="#e8e8e8"><path d="M395,714 L400,714 L398,720 Z"/><path d="M404,714 L409,714 L407,720 Z"/><path d="M413,714 L418,714 L416,720 Z"/></g>
</g>
<rect x="382" y="672.5" width="43" height="9" fill="#1a1a1c"/>
<rect x="382" y="705.5" width="43" height="9" fill="#1a1a1c"/>
<g fill="#e6e6e6"><rect x="388" y="715" width="4" height="5"/><rect x="397" y="715" width="4" height="5"/><rect x="406" y="715" width="4" height="5"/><rect x="415" y="715" width="4" height="5"/></g>
<rect x="402.5" y="690" width="13" height="7" fill="#c83838"/>
<rect x="405" y="691" width="3" height="5" fill="#8a1a1a"/>
</g>
<!-- pump -->
<g id="pump">
<path d="M458,636 C454,630 464,628 470,634 C474,638 472,644 468,646" stroke="#141414" stroke-width="1.8" fill="none"/>
<path d="M462,634 C466,630 476,632 476,640" stroke="#141414" stroke-width="1.3" fill="none"/>
<path d="M462,643 L476,643 L486,652 L487,694 L457,694 L458,653 Z" fill="url(#pumpg)"/>
<path d="M464,643 L475,643 L478,650 L462,652 Z" fill="#3a7ae8"/>
<g stroke="#183e94" stroke-width="1.1"><line x1="463" y1="656" x2="463" y2="692"/><line x1="469" y1="655" x2="469" y2="692"/><line x1="475" y1="655" x2="475" y2="692"/><line x1="481" y1="656" x2="481" y2="692"/></g>
<rect x="484" y="658" width="3" height="8" fill="#1a4aa8"/>
<path d="M457,692 L487,692 L492,700 L492,714 Q471,722 451,714 L451,700 Z" fill="#2a64cc"/>
<path d="M451,704 Q471,712 492,704" stroke="#1a4aa8" stroke-width="1.2" fill="none"/>
<path d="M455,714 L462,722 L480,722 L488,714 Z" fill="#1a48a8"/>
<path d="M441,704 Q440,700 446,699 L453,701 L454,714 L446,716 Q441,712 441,704 Z" fill="#2a5ec8"/>
<ellipse cx="444" cy="707" rx="2.5" ry="6" fill="#1a4aa8"/>
</g>
<g class="t" font-size="16">
<text x="5" y="746" textLength="77" lengthAdjust="spacingAndGlyphs">液位传感器</text>
<text x="103" y="746" textLength="60" lengthAdjust="spacingAndGlyphs">浮球开关</text>
<text x="206" y="746" textLength="59" lengthAdjust="spacingAndGlyphs">切换开关</text>
<text x="282.5" y="746" textLength="74" lengthAdjust="spacingAndGlyphs">电动阀反馈</text>
<text x="385" y="746" textLength="30" lengthAdjust="spacingAndGlyphs">启动</text>
<text x="432" y="746" textLength="76" lengthAdjust="spacingAndGlyphs">潜污泵反馈</text>
</g>

<!--/BOTTOM-->
<!--ROUTER-->
<g id="router">
<path d="M739.3,413.3 L739.3,432 A35,16.5 0 0 0 809.3,432 L809.3,413.3 Z" fill="url(#rside)"/>
<ellipse cx="774.3" cy="413.3" rx="35" ry="17" fill="url(#rtop)"/>
<g fill="#eef4ff" stroke="#c8d8f8" stroke-width="0.4">
<path d="M749,401 L762,400.5 L759.5,403 L771,408.5 L767,411.5 L755.5,406 L753,408.5 Z"/>
<path d="M799.5,401 L786.5,400.5 L789,403 L777.5,408.5 L781.5,411.5 L793,406 L795.5,408.5 Z"/>
<path d="M749,426 L762,426.5 L759.5,424 L771,418.5 L767,415.5 L755.5,421 L753,418.5 Z"/>
<path d="M799.5,426 L786.5,426.5 L789,424 L777.5,418.5 L781.5,415.5 L793,421 L795.5,418.5 Z"/>
</g>
</g>
<text class="t" x="734" y="470" font-size="19" textLength="60" lengthAdjust="spacingAndGlyphs">路由器</text>
<!-- GVCOM globe -->
<g id="globe">
<path d="M798,320 C806,326 804,332 796,334 C790,336 786,334 784,332" stroke="#d4d8e0" stroke-width="3" fill="none"/>
<path d="M798,320 C806,326 804,332 796,334 C790,336 786,334 784,332" stroke="#9aa0ac" stroke-width="0.8" fill="none"/>
<path d="M776,330 L787,326 L791,335 L780,339 Z" fill="#e4e8ee" stroke="#9aa0aa" stroke-width="0.8"/>
<circle cx="792" cy="307" r="16.5" fill="url(#globe)"/>
<path d="M780,300 C784,294 792,292 796,296 C798,300 792,304 794,308 C796,312 804,312 806,306" stroke="#c8d4f4" stroke-width="2.2" fill="none" opacity="0.75"/>
<path d="M784,312 C788,316 794,318 798,316" stroke="#b8c8f0" stroke-width="1.6" fill="none" opacity="0.6"/>
</g>
<text x="0" y="0" font-family="Liberation Sans" font-weight="bold" font-size="16" fill="#262626" stroke="#262626" stroke-width="0.5" transform="translate(824,311) rotate(-49)" textLength="63" lengthAdjust="spacingAndGlyphs">GVCOM</text>

<!--/ROUTER-->
<!--RIGHT-->
<!-- desktop -->
<g id="desktop">
<path d="M1025.5,97 L1049,94 L1049,201 L1025.5,198 Z" fill="#6c6c72"/>
<path d="M1049,94 L1095.5,94 L1095.5,201 L1049,201 Z" fill="#55555b"/>
<rect x="1049" y="94" width="2.5" height="107" fill="#b8b8bc"/>
<rect x="1093" y="94" width="2.5" height="107" fill="#8a8a90"/>
<rect x="1051.5" y="94" width="41.5" height="4" fill="#9a9aa0"/>
<rect x="1054" y="100" width="37" height="98" fill="#45454b"/>
<rect x="1053" y="106" width="40" height="2.5" fill="#d0d0d4"/>
<g fill="#45454b"><rect x="1057" y="106.5" width="3" height="1.5"/><rect x="1064" y="106.5" width="3" height="1.5"/><rect x="1071" y="106.5" width="3" height="1.5"/><rect x="1078" y="106.5" width="3" height="1.5"/></g>
<rect x="1057.5" y="154" width="27" height="14" fill="#4a8ac0"/>
<rect x="1059" y="156" width="20" height="10" fill="#8ac0e8"/>
<g fill="#b8d8f0"><circle cx="1082" cy="157" r="0.8"/><circle cx="1082" cy="160.5" r="0.8"/><circle cx="1082" cy="164" r="0.8"/></g>
<rect x="1054" y="172" width="37" height="1" fill="#6a6a70"/>
<rect x="900.5" y="83.5" width="136.5" height="84" rx="2" fill="#1e1e22"/>
<rect x="905.5" y="88" width="127" height="77" fill="url(#step7)"/>
<path d="M985,93 L1032,93 L1002,165 L980,165 Z" fill="#2c5a8a" opacity="0.55"/>
<rect x="906" y="88" width="127" height="3" fill="#2a5080"/>
<rect x="908" y="91" width="20" height="2" fill="#6aa0c8"/>
<text x="908" y="108.5" font-family="Liberation Sans" font-size="8.6" fill="#f4f6f8" textLength="60" lengthAdjust="spacingAndGlyphs">STEP 7-Micro/WIN</text>
<rect x="969" y="103" width="24" height="7" fill="#1c2e48" opacity="0.6"/>
<text x="910" y="121" font-family="Liberation Sans" font-size="5" fill="#e0e8f0" textLength="52" lengthAdjust="spacingAndGlyphs">Version 4.0    IEC 1131-3</text>
<rect x="908" y="125" width="112" height="9" fill="#182c48" opacity="0.7"/>
<rect x="913" y="137" width="30" height="22" fill="#b8bcc0"/>
<rect x="920" y="139" width="16" height="18" fill="#8a9098"/>
<circle cx="926" cy="150" r="4" fill="#2a2e34"/>
<rect x="943" y="137" width="20" height="22" fill="#4a6a8a"/>
<rect x="963" y="137" width="16" height="22" fill="#3a5a7a"/>
<rect x="970" y="137" width="25" height="22" fill="#c89a3a"/>
<path d="M972,158 L985,140 L994,146 L984,159 Z" fill="#e8c060"/>
<rect x="906" y="160" width="126" height="4" fill="#0e1c34"/>
<rect x="1014" y="160" width="5" height="4" fill="#c0c8d0"/>
<rect x="964.5" y="167" width="7" height="17" fill="#2a2a2e"/>
<rect x="966.5" y="167" width="2" height="17" fill="#8a8a8e"/>
<path d="M928,186 Q929,183.5 934,183.5 L1004,183.5 Q1009,184 1009,186.5 L1008,189 L929,189 Z" fill="#26262a"/>
<rect x="932" y="189" width="74" height="1.5" fill="#c8c8cc"/>
<path d="M903,212 L1053,212 L1056,234 L900,234 Z" fill="#3e3e44"/>
<path d="M900,234 L1056,234 L1055,236.5 L901,236.5 Z" fill="#c4c4c8"/>
<g fill="#9a9aa2">
<rect x="906" y="215" width="140" height="3.2"/><rect x="905" y="219.5" width="143" height="3.2"/><rect x="904" y="224" width="145" height="3.2"/><rect x="903" y="228.5" width="147" height="3.2"/>
</g>
<g stroke="#3e3e44" stroke-width="1">
<path d="M915,214 V232 M925,214 V232 M935,214 V232 M945,214 V232 M955,214 V232 M965,214 V232 M975,214 V232 M985,214 V232 M995,214 V232 M1005,214 V232 M1015,214 V232 M1025,214 V232 M1035,214 V232 M1045,214 V232"/>
</g>
<ellipse cx="1074.5" cy="217" rx="14.5" ry="9" fill="#4a4a50" transform="rotate(12 1074.5 217)"/>
<ellipse cx="1072" cy="215" rx="10" ry="6" fill="#8a8a90" transform="rotate(12 1072 215)"/>
</g>
<!-- right logos -->
<g id="melsoft">
<circle cx="1164" cy="23" r="23" fill="#241010"/>
<path d="M1143.5,20 A20.5,20.5 0 0 1 1184.5,20 L1179,20 A15,15 0 0 0 1149,20 Z" fill="#c82020"/>
<path d="M1145,28 A19,19 0 0 0 1183,28 Z" fill="#d42424"/>
<path d="M1150,30 Q1164,40 1178,30 Z" fill="#f06a6a" opacity="0.5"/>
<rect x="1141" y="17" width="46" height="13" fill="#f4f4f4"/>
<text x="1129.5" y="29.5" font-family="Liberation Sans" font-weight="bold" font-size="15.5" fill="#1c1c1c" stroke="#1c1c1c" stroke-width="0.3" textLength="69" lengthAdjust="spacingAndGlyphs">MELSOFT</text>
</g>
<text x="1122" y="69" font-family="Liberation Sans" font-weight="bold" font-size="16.5" fill="#4c7c86" textLength="100" lengthAdjust="spacingAndGlyphs">三菱编程软件</text>
<g id="smart">
<rect x="1143" y="73" width="50" height="44" fill="#eef2f8" stroke="#7a8aa8" stroke-width="1"/>
<rect x="1143" y="73" width="50" height="6" fill="#3a5ad0"/>
<g stroke="#5a6a8a" stroke-width="1.2" fill="none"><path d="M1147,89 H1175 M1149,85 V93 M1155,85 V93 M1159,85 V93 M1165,85 V93 M1147,100 H1160 M1149,96 V104 M1155,96 V104"/><rect x="1170" y="86" width="5" height="6"/><circle cx="1163" cy="100" r="3"/></g>
<rect x="1165" y="103" width="22" height="17" fill="#6a7a6a" stroke="#2a2a2a" stroke-width="1"/>
<rect x="1166" y="107" width="20" height="6" fill="#9ab09a"/>
</g>
<text x="1109" y="139.5" font-family="Liberation Sans" font-weight="bold" font-size="17" fill="#4c7c86" textLength="100" lengthAdjust="spacingAndGlyphs">SMART编程</text>
<g id="tia">
<rect x="1145" y="142" width="44" height="43" fill="#2a2c38"/>
<text x="1146" y="164" font-family="Liberation Sans" font-size="22" fill="#f8f8f8" textLength="42" lengthAdjust="spacingAndGlyphs">TIA</text>
<text x="1146" y="183.5" font-family="Liberation Sans" font-weight="bold" font-size="20" fill="#b4b8d8" textLength="43" lengthAdjust="spacingAndGlyphs">V13</text>
</g>
<text x="1116" y="204.5" font-family="Liberation Sans" font-weight="bold" font-size="17" fill="#4c7c86" textLength="100" lengthAdjust="spacingAndGlyphs">博涂编程软件</text>
<g id="s7">
<rect x="1149" y="213" width="41" height="42" fill="#eef0f4" stroke="#8a8a9a" stroke-width="1"/>
<rect x="1151.5" y="215" width="36" height="5" fill="#2a3ab8"/>
<g stroke="#333" stroke-width="1"><path d="M1152,227 H1162 M1152,235 H1162"/></g>
<rect x="1162" y="226" width="32" height="32" rx="2" fill="#4a4e4e" stroke="#1a1a1a" stroke-width="1.5"/>
<rect x="1173" y="223" width="8" height="4" fill="#4a4e4e" stroke="#1a1a1a" stroke-width="1"/>
<rect x="1166" y="232" width="6" height="20" fill="#6a6e6e"/>
<rect x="1184" y="236" width="6" height="10" fill="#6a6e6e" stroke="#1a1a1a" stroke-width="0.8"/>
</g>
<text x="1108" y="284" font-family="Liberation Sans" font-weight="bold" font-size="17" fill="#4c7c86" textLength="112" lengthAdjust="spacingAndGlyphs">S7-200编程软件</text>
<!--LAPTOPS-->
<g id="laptop1">
<path d="M941.5,291 Q941.5,288 945,288 L1058.5,288 Q1062,288 1062,291 L1062,372 L941.5,372 Z" fill="#2e2e32"/>
<rect x="944.7" y="294.4" width="114.3" height="72" fill="#dfe2e4"/>
<rect x="944.7" y="294.4" width="114.3" height="9" fill="#4a8fb8"/>
<rect x="1000" y="296" width="50" height="5" fill="#7ab4d8" opacity="0.7"/>
<rect x="944.7" y="303.4" width="114.3" height="3" fill="#f0f4f0"/>
<rect x="949" y="304" width="8" height="2" fill="#88c080"/>
<rect x="944.7" y="306.4" width="114.3" height="60" fill="#e6e8ea"/>
<path d="M944.7,310 L962,314 L962,345 L944.7,362 Z" fill="#d4d8da"/>
<path d="M962,322 L1040,322 L1059,346 L1059,366.4 L944.7,366.4 L944.7,362 Z" fill="#c2c6ca"/>
<path d="M1005,326 L1040,326 L1052,346 L1052,366 L1002,366 Z" fill="#b4b8be"/>
<g fill="none" stroke="#9a9ea4" stroke-width="1"><path d="M960,312 H1040 M972,318 H1030 M978,318 V360 M962,344 H1000 M958,352 H998 M1030,308 V320 M1040,320 H1050 V340"/></g>
<g fill="#1e2024"><rect x="987" y="316" width="4" height="6"/><rect x="985" y="323" width="5" height="6"/><rect x="983" y="330" width="5" height="6"/><rect x="980" y="337" width="5" height="6"/><rect x="977" y="344" width="5" height="6"/><rect x="975" y="351" width="5" height="7"/><rect x="990" y="328" width="4" height="5"/><rect x="988" y="336" width="4" height="5"/></g>
<g fill="#3a4a6a"><rect x="1015" y="331" width="6" height="3"/><rect x="1015" y="340" width="6" height="3"/></g>
<g fill="#8a9098"><rect x="1012" y="352" width="2" height="8"/><rect x="1020" y="352" width="2" height="8"/><rect x="1028" y="352" width="2" height="8"/></g>
<rect x="1038" y="338" width="4" height="5" fill="#2a2c30"/>
<rect x="1052" y="322" width="6" height="44" fill="#eceef0"/>
<path d="M941.5,372 L1062,372 L1080,399 L925,399 Z" fill="url(#lapbase)"/>
<path d="M942,378 L1062.5,378 L1066,389 L938,389 Z" fill="#2a2a2e"/>
<g stroke="#6a6a70" stroke-width="0.6"><path d="M941,383.5 H1064"/></g>
<rect x="981.5" y="390" width="40.5" height="8" rx="2" fill="#b8b8bc" stroke="#4a4a50" stroke-width="1.2"/>
<path d="M925,399 L1080,399 L1079,405 L926,405 Z" fill="#4a4a4e"/>
<g fill="#c8c8cc"><circle cx="995" cy="402" r="0.8"/><circle cx="1002" cy="402" r="0.8"/><circle cx="1009" cy="402" r="0.8"/></g>
</g>
<!-- kingview -->
<rect x="936.5" y="418" width="134" height="27.5" fill="url(#kv)"/>
<rect x="936.5" y="418" width="20" height="27.5" fill="#8aa8b8" opacity="0.4"/>
<text x="941" y="440" font-family="Liberation Sans" font-weight="bold" font-size="17" fill="#c83050" textLength="49" lengthAdjust="spacingAndGlyphs">组态王</text>
<text x="991" y="440" font-family="Liberation Sans" font-weight="bold" font-style="italic" font-size="17" fill="#c8203c" textLength="77" lengthAdjust="spacingAndGlyphs">KingView</text>
<!-- OPC server icon -->
<g id="opc">
<g stroke="#1a1a1a" stroke-width="1.3">
<path d="M856,444 L862,439.5 L876,439.5 L876,491 L856,491 Z" fill="#8a8a8a"/>
<path d="M877,444 L883,439.5 L898,439.5 L898,491 L877,491 Z" fill="#8a8a8a"/>
<path d="M899,444 L905,439.5 L920,439.5 L920,491 L899,491 Z" fill="#8a8a8a"/>
</g>
<g fill="#4a4a4a"><rect x="857" y="445" width="18" height="8"/><rect x="878" y="445" width="19" height="8"/><rect x="900" y="445" width="19" height="8"/></g>
<g fill="#40d060"><rect x="860" y="450" width="13" height="2.5"/><rect x="881" y="450" width="13" height="2.5"/><rect x="903" y="450" width="13" height="2.5"/></g>
<g fill="#b82a2a"><circle cx="860" cy="460" r="1.5"/><circle cx="860" cy="468" r="1.5"/><circle cx="860" cy="476" r="1.5"/><circle cx="881" cy="462" r="1.5"/><circle cx="881" cy="472" r="1.5"/><circle cx="903" cy="460" r="1.5"/><circle cx="903" cy="470" r="1.5"/><circle cx="903" cy="478" r="1.5"/></g>
<g fill="#50d070"><circle cx="868" cy="458" r="1.8"/><circle cx="889" cy="460" r="1.8"/><circle cx="890" cy="468" r="1.8"/><circle cx="910" cy="458" r="1.8"/><circle cx="910" cy="466" r="1.8"/></g>
</g>
<text x="834.5" y="511" font-family="Liberation Sans" font-size="14" fill="#222" textLength="104" lengthAdjust="spacingAndGlyphs">GrmOpcServer</text>
<!-- OPC blue box -->
<rect x="941" y="459.5" width="257" height="49" rx="12" fill="url(#bluebox)" stroke="#1e4c9c" stroke-width="1.5"/>
<text x="956" y="478.5" font-family="Liberation Serif" font-size="20" fill="#fff" textLength="225" lengthAdjust="spacingAndGlyphs">非透传方式与组态软件用</text>
<text x="1001" y="501.5" font-family="Liberation Serif" font-size="20" fill="#fff" textLength="133" lengthAdjust="spacingAndGlyphs">OPC客户端通讯</text>
<!-- laptop2 -->
<g id="laptop2">
<rect x="941.5" y="534.3" width="136" height="98.5" rx="3" fill="#eef0f2" stroke="#d0d4d8" stroke-width="1"/>
<rect x="945" y="540.5" width="128" height="87" fill="#3a64ac"/>
<rect x="945" y="540.5" width="128" height="9" fill="#1a2a40"/>
<rect x="1045" y="543" width="25" height="3" fill="#5a6a80"/>
<rect x="945" y="618" width="128" height="9.5" fill="#1e2e44"/>
<g fill="#6a7a90"><rect x="948" y="621" width="8" height="2"/><rect x="960" y="621" width="8" height="2"/><rect x="972" y="621" width="8" height="2"/><rect x="984" y="621" width="8" height="2"/><rect x="996" y="621" width="8" height="2"/><rect x="1008" y="621" width="8" height="2"/><rect x="1020" y="621" width="8" height="2"/></g>
<path d="M949,558 L962,568 L996,592 L1000,586 L1012,600 L1040,610 L1070,614" stroke="#d8e8d0" stroke-width="1.3" fill="none"/>
<path d="M952,562 L965,566 L980,573 L998,584 L1004,590" stroke="#c8dca8" stroke-width="2.6" fill="none"/>
<path d="M963,572 L972,587 L1000,596 L1010,604" stroke="#b8c8d8" stroke-width="1" fill="none"/>
<rect x="962" y="556" width="10" height="6" fill="#7a9a50" opacity="0.85"/>
<rect x="974" y="566" width="8" height="5" fill="#8aaa60" opacity="0.8"/>
<rect x="1020" y="592" width="14" height="10" fill="#5a8a50" opacity="0.85"/>
<g fill="#1a2a44"><rect x="987" y="553" width="7" height="4"/><rect x="1002" y="568" width="6" height="6"/><rect x="960" y="586" width="8" height="5"/></g>
<g fill="#9aaac8" opacity="0.6"><rect x="1020" y="556" width="25" height="1"/><rect x="1020" y="564" width="30" height="1"/></g>
<rect x="1048" y="614" width="18" height="3" fill="#dfe8f0"/>
<rect x="1025" y="606" width="10" height="2" fill="#dfe8f0"/>
<rect x="950" y="632" width="20" height="6" rx="1" fill="#d8dcdf"/>
<rect x="1049" y="632" width="20" height="6" rx="1" fill="#d8dcdf"/>
<path d="M941.5,635 L1077.5,635 L1093,664 L927.5,664 Z" fill="url(#lap2base)"/>
<path d="M950,640 L1070,640 L1078,656 L942,656 Z" fill="#c8ccd0"/>
<g stroke="#e4e6ea" stroke-width="0.7"><path d="M948,644 H1072 M946,648 H1074 M944,652 H1076"/></g>
<path d="M927.5,664 L1093,664 L1092.5,668.5 L928,668.5 Z" fill="#b4b8bc"/>
</g>
<!-- WinCC -->
<g id="wincc">
<path d="M987,744 C988,722 1000,698 1031,682 C1018,698 1011,710 1013,719 C1025,719 1035,721 1043,724 C1020,722 1003,728 987,744 Z" fill="url(#wincc)" opacity="0.75"/>
<text x="981.5" y="718" font-family="Liberation Sans" font-size="25" fill="#7a1a4c" textLength="63" lengthAdjust="spacingAndGlyphs">WinCC</text>
<circle cx="1049" cy="701.5" r="2" fill="none" stroke="#9a8a9a" stroke-width="0.6"/>
</g>

<!--/LAPTOPS-->

<!--/RIGHT-->
</svg>
</body></html>
